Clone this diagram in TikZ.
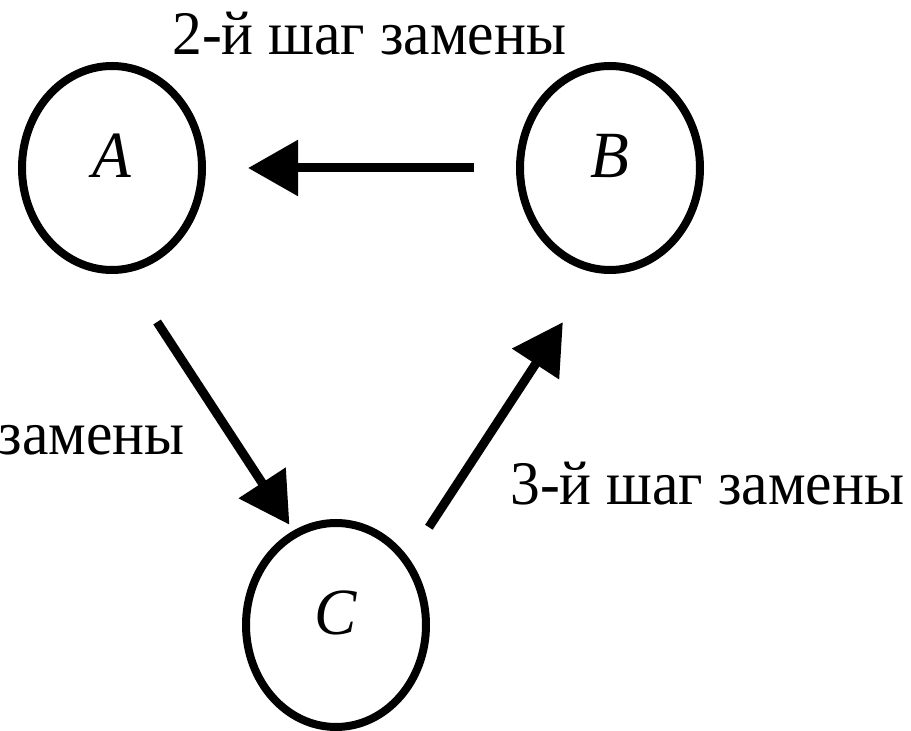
\documentclass[tikz,border=0pt]{standalone}
\usepackage{fontspec}
\setmainfont[FakeStretch=0.96]{Liberation Serif}
\usetikzlibrary{arrows.meta,shapes.geometric}

\begin{document}
\begin{tikzpicture}[x=0.5pt, y=-0.5pt,
            > = {Triangle[length=25pt,width=27pt]},
every edge/.append style = {->, draw, line width=4.5pt},
 state/.style = {ellipse, draw, line width=4pt, minimum width=90pt, minimum height=102pt,
                 inner sep=0pt, outer sep=0pt, text depth=12pt,
                 font=\fontsize{33pt}{36pt}\selectfont\itshape},
   stepnote/.style = {anchor=base west, inner sep=0pt, font=\fontsize{31pt}{36pt}\selectfont}
]
\useasboundingbox (0,0) rectangle (911,731);
\node (A) [state] at (112,168) {A};
\node (B) [state] at (610,168) {B};
\node (C) [state] at (336,625) {C};
\node (s2) [stepnote] at (172,55) {2-й шаг замены};
\node (s1) [stepnote, anchor=base east] at (185,455) {замены};
\node (s3) [stepnote] at (510,505) {3-й шаг замены};
\path
        (B) edge [shorten <=23pt, shorten >=23pt]        (A)
        (A.-84) edge [shorten <=31.5pt, shorten >=5.5pt]  (C.114)
        (C.42) edge [shorten <=20.5pt, shorten >=31.75pt] (B.-97.5);

\end{tikzpicture}
\end{document}
